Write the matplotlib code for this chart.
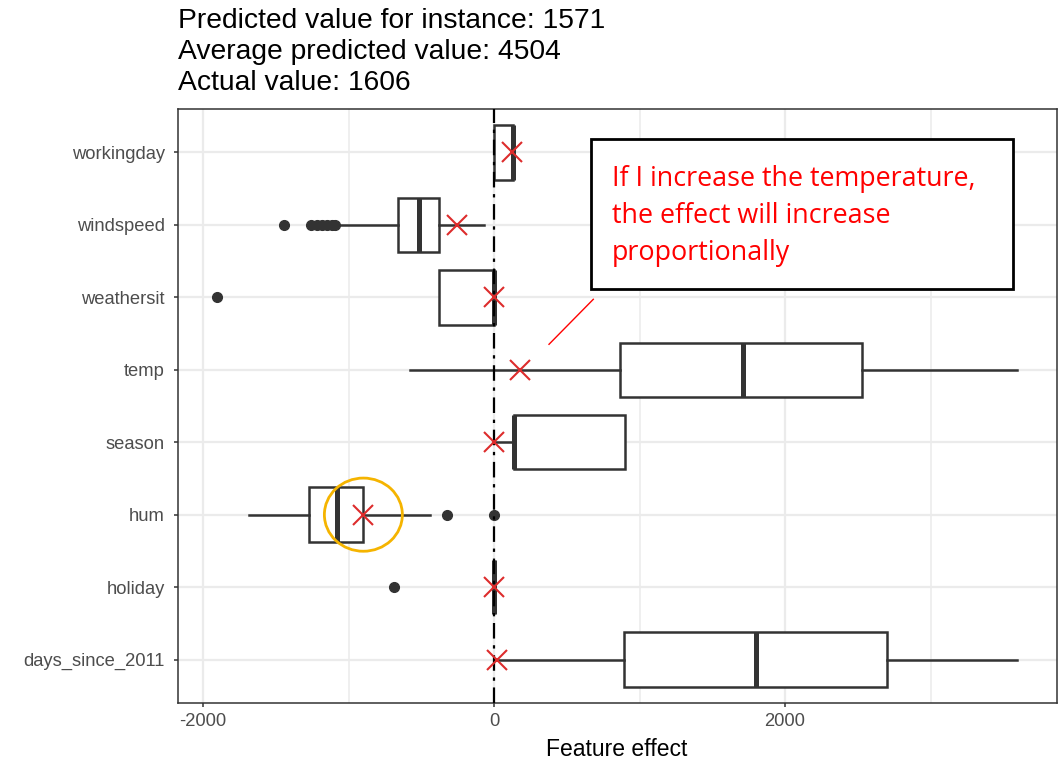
import matplotlib
matplotlib.use("Agg")
import matplotlib.pyplot as plt
from matplotlib.patches import Ellipse, Rectangle
from matplotlib.lines import Line2D
from matplotlib.ticker import FixedLocator

# Box-plot summaries of the feature effects, one entry per feature (bottom to top)
features = ["days_since_2011", "holiday", "hum", "season", "temp",
            "weathersit", "windspeed", "workingday"]
whisker_low = [0, 0, -1684, 0, -577, -378, -1070, 0]
q1 = [896, 0, -1269, 140, 866, -378, -662, 0]
median = [1799, 0, -1081, 140, 1710, 0, -513, 132]
q3 = [2699, 0, -898, 901, 2528, 0, -380, 132]
whisker_high = [3595, 0, -440, 901, 3595, 0, -66, 132]
outliers = [[], [-685], [-325, 0], [], [], [-1902],
            [-1443, -1258, -1219, -1184, -1150, -1116, -1093], []]

# Effect of each feature for the explained instance
instance_effect = [20, 0, -898, 0, 177, 0, -252, 124]

title_lines = ["Predicted value for instance: 1571",
               "Average predicted value: 4504",
               "Actual value: 1606"]
x_major = [-2000, 0, 2000]
x_minor = [-1000, 1000, 3000]
x_label = "Feature effect"
note_lines = ["If I increase the temperature,",
              "the effect will increase",
              "proportionally"]

W, H = 1064, 759
fig = plt.figure(figsize=(W / 100, H / 100), dpi=100)
fig.patch.set_facecolor("white")

def fx(px):
    return px / W

def fy(py):
    return 1 - py / H

ax = fig.add_axes([fx(178), fy(703), fx(1057) - fx(178), fy(109) - fy(703)])

dark = "#333333"
positions = list(range(1, len(features) + 1))

stats = []
for i, name in enumerate(features):
    stats.append(dict(label=name, whislo=whisker_low[i], q1=q1[i], med=median[i],
                      q3=q3[i], whishi=whisker_high[i], fliers=outliers[i]))

ax.bxp(stats, positions=positions, widths=0.75, orientation="horizontal",
       showcaps=False, patch_artist=True,
       boxprops=dict(facecolor="white", edgecolor=dark, linewidth=1.8),
       medianprops=dict(color=dark, linewidth=3.6, solid_capstyle="butt"),
       whiskerprops=dict(color=dark, linewidth=1.8),
       flierprops=dict(marker="o", markerfacecolor=dark, markeredgecolor=dark,
                       markersize=7))

ax.axvline(0, color="black", linewidth=1.6, linestyle=(0, (7, 3, 1.5, 3)), zorder=3)

ax.plot(instance_effect, positions, linestyle="none", marker="x", markersize=15,
        markeredgewidth=1.5, color="#DD2C2C", zorder=4)

ax.set_xlim(-2172, 3869)
ax.set_ylim(0.4, len(features) + 0.6)
ax.xaxis.set_major_locator(FixedLocator(x_major))
ax.xaxis.set_minor_locator(FixedLocator(x_minor))
ax.set_xticklabels([str(v) for v in x_major])
ax.set_yticks(positions)
ax.set_yticklabels(features)

ax.set_axisbelow(True)
ax.grid(which="major", color="#EBEBEB", linewidth=1.6)
ax.grid(which="minor", axis="x", color="#EBEBEB", linewidth=1.1)
for sp in ax.spines.values():
    sp.set_color(dark)
    sp.set_linewidth(1.1)
ax.tick_params(which="major", length=3, width=1.1, color=dark,
               labelcolor="#4D4D4D", labelsize=13.2)
ax.tick_params(axis="y", pad=6.5)
ax.tick_params(axis="x", pad=4)
ax.tick_params(which="minor", length=0)
for lab in ax.get_xticklabels() + ax.get_yticklabels():
    lab.set_family("Liberation Sans")

# Highlight around the humidity effect of the instance
ax.add_patch(Ellipse((instance_effect[2], positions[2]), width=536, height=1.01,
                     fill=False, edgecolor="#F5B400", linewidth=2.0, zorder=5))

fig.text(fx(617), fy(756), x_label, ha="center", va="baseline",
         fontsize=16.5, family="Liberation Sans", color="black")

for line, base in zip(title_lines, [28, 59, 90]):
    fig.text(fx(178), fy(base), line, ha="left", va="baseline",
             fontsize=20.3, family="Liberation Sans", color="black")

# Callout box with its pointer line
fig.add_artist(Rectangle((fx(590.7), fy(289)), fx(1013.3) - fx(590.7), fy(139.3) - fy(289),
                         transform=fig.transFigure, facecolor="white",
                         edgecolor="black", linewidth=2, zorder=6))
fig.add_artist(Line2D([fx(593.3), fx(549)], [fy(299.3), fy(344.3)],
                      transform=fig.transFigure, color="#FF0000", linewidth=1, zorder=6))
for line, base in zip(note_lines, [186, 223, 260]):
    fig.text(fx(612), fy(base), line, ha="left", va="baseline",
             fontsize=19.4, family="Open Sans", color="#FF0000", zorder=7)

fig.savefig("out.png", dpi=100, facecolor="white")
